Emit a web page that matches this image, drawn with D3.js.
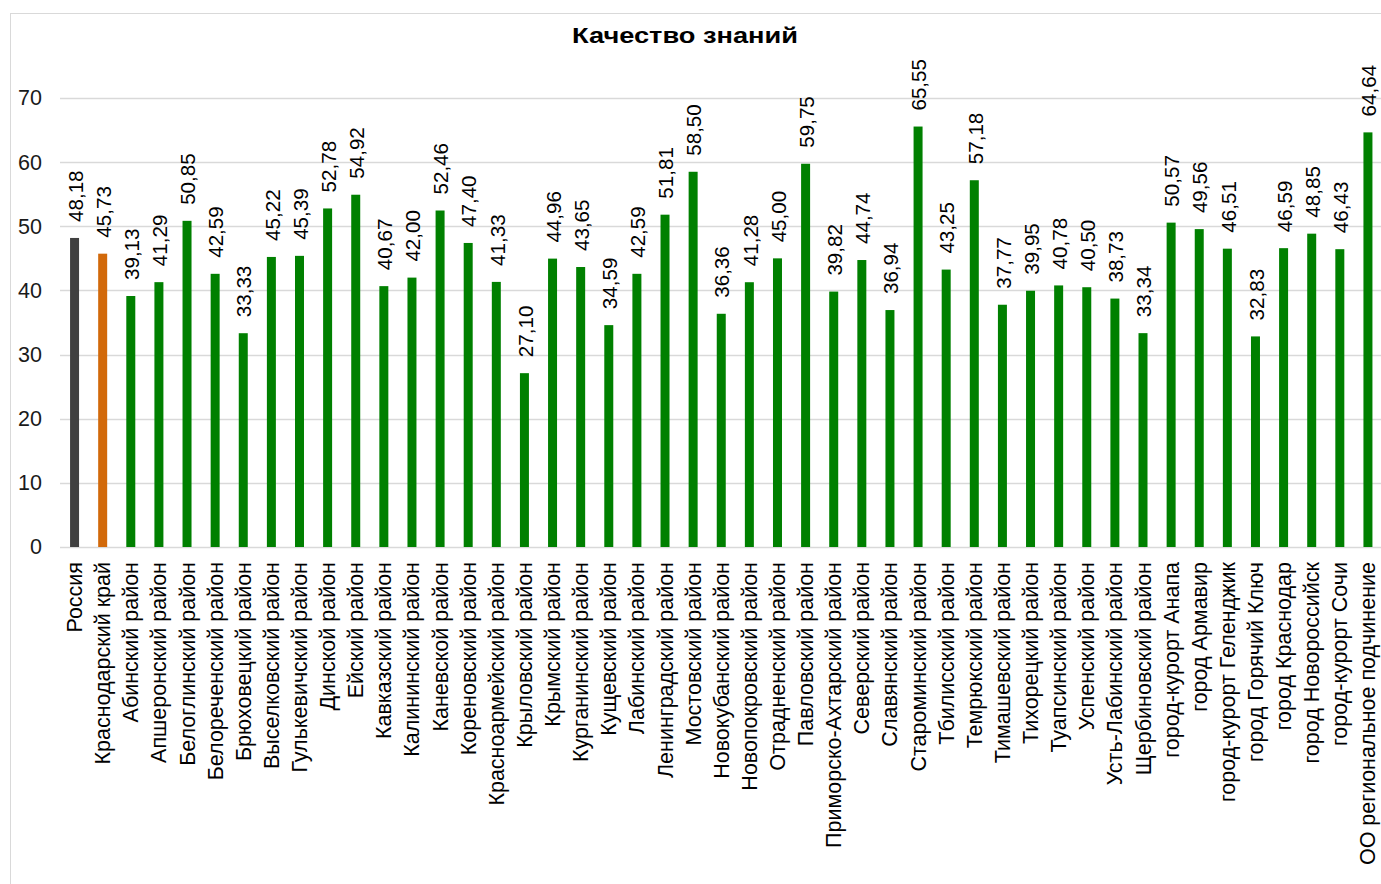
<!DOCTYPE html>
<html><head><meta charset="utf-8">
<script src="https://cdn.jsdelivr.net/npm/d3@7"></script>
<style>body{margin:0;background:#fff}svg{display:block}text{font-family:"Liberation Sans",Arial,sans-serif}</style>
</head><body>
<svg id="c" width="1381" height="884"></svg>
<script>
const categories = ["Россия","Краснодарский край","Абинский район","Апшеронский район","Белоглинский район","Белореченский район","Брюховецкий район","Выселковский район","Гулькевичский район","Динской район","Ейский район","Кавказский район","Калининский район","Каневской район","Кореновский район","Красноармейский район","Крыловский район","Крымский район","Курганинский район","Кущевский район","Лабинский район","Ленинградский район","Мостовский район","Новокубанский район","Новопокровский район","Отрадненский район","Павловский район","Приморско-Ахтарский район","Северский район","Славянский район","Староминский район","Тбилисский район","Темрюкский район","Тимашевский район","Тихорецкий район","Туапсинский район","Успенский район","Усть-Лабинский район","Щербиновский район","город-курорт Анапа","город Армавир","город-курорт Геленджик","город Горячий Ключ","город Краснодар","город Новороссийск","город-курорт Сочи","ОО региональное подчинение"];
const values = [48.18,45.73,39.13,41.29,50.85,42.59,33.33,45.22,45.39,52.78,54.92,40.67,42.00,52.46,47.40,41.33,27.10,44.96,43.65,34.59,42.59,51.81,58.50,36.36,41.28,45.00,59.75,39.82,44.74,36.94,65.55,43.25,57.18,37.77,39.95,40.78,40.50,38.73,33.34,50.57,49.56,46.51,32.83,46.59,48.85,46.43,64.64];
const yTicks = [0,10,20,30,40,50,60,70];
const title = "Качество знаний";
const colorFor = (i) => i === 0 ? "#404040" : (i === 1 ? "#D2690A" : "#008000");

const svg = d3.select("#c");
svg.append("rect").attr("x",10.5).attr("y",13.5).attr("width",1400).attr("height",900)
  .attr("fill","#fff").attr("stroke","#d9d9d9").attr("stroke-width",1);

const x = d3.scaleBand().domain(categories).range([60.5,1382]).paddingInner(0.68).paddingOuter(0.34);
const y = d3.scaleLinear().domain([0,70]).range([547,98]);

svg.append("text").attr("x",572).attr("y",42.5).attr("text-anchor","start")
  .attr("font-size",22).attr("font-weight","bold").attr("fill","#000")
  .attr("textLength",226).attr("lengthAdjust","spacingAndGlyphs").text(title);

const grid = svg.append("g");
grid.selectAll("line").data(yTicks).join("line")
  .attr("x1",60).attr("x2",1381)
  .attr("y1",d=>Math.round(y(d))+0.5).attr("y2",d=>Math.round(y(d))+0.5)
  .attr("stroke","#d9d9d9").attr("stroke-width",1.3);

const yAxis = d3.axisLeft(y).tickValues(yTicks).tickSize(0).tickPadding(0);
const ya = svg.append("g").attr("transform","translate(42,0)").call(yAxis);
ya.select(".domain").remove();
ya.selectAll("text").attr("font-size",21.5).attr("fill","#1a1a1a").attr("font-family","Liberation Sans, Arial, sans-serif");

svg.append("g").selectAll("rect").data(values).join("rect")
  .attr("x",(d,i)=>x(categories[i]))
  .attr("width",x.bandwidth())
  .attr("y",d=>y(d))
  .attr("height",d=>y(0)-y(d))
  .attr("fill",(d,i)=>colorFor(i));

const fmt = d => d.toFixed(2).replace(".",",");
svg.append("g").selectAll("text").data(values).join("text")
  .attr("transform",(d,i)=>`translate(${x(categories[i])+x.bandwidth()/2+1},${y(d)-16}) rotate(-90)`)
  .attr("text-anchor","start").attr("dy","0.35em")
  .attr("font-size",20.6).attr("fill","#000").text(fmt);

const xAxis = d3.axisBottom(x).tickSize(0).tickPadding(0);
const xa = svg.append("g").attr("transform","translate(0,547)").call(xAxis);
xa.select(".domain").remove();
xa.selectAll("text")
  .attr("transform","translate(0,15) rotate(-90)")
  .attr("text-anchor","end").attr("dy","0.35em").attr("y",0).attr("x",0)
  .attr("font-size",21.5).attr("fill","#000").attr("font-family","Liberation Sans, Arial, sans-serif");
</script>
</body></html>
